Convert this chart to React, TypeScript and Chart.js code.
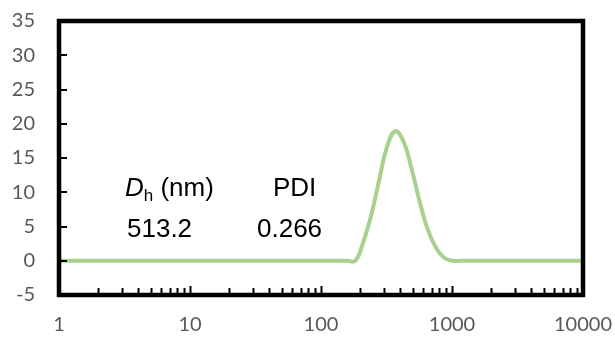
import React, { useEffect, useRef } from "react";
import { Chart, registerables } from "chart.js";

Chart.register(...registerables);

// Hydrodynamic diameter (nm) and intensity (%)
const sizesNm = [1, 158.0, 182.5, 207.5, 239.3, 276.7, 319.9, 369.0, 426.6, 493.3, 568.9, 657.7, 760.3, 877.0, 1014, 1172, 10000];
const intensity = [0, 0, 0, 2.4, 6.3, 11.6, 16.7, 18.9, 17.4, 13.3, 8.5, 4.4, 1.8, 0.4, 0, 0, 0];

const xTickLabels = [1, 10, 100, 1000, 10000];
const yMin = -5;
const yMax = 35;
const yStep = 5;

const dhLabel = "513.2";
const pdiLabel = "0.266";

const LINE_COLOR = "#A9D18E";
const TICK_COLOR = "#595959";

export default function App() {
  const canvasRef = useRef<HTMLCanvasElement | null>(null);

  useEffect(() => {
    const canvas = canvasRef.current;
    if (!canvas) return;

    const framePlugin = {
      id: "frame",
      afterDraw(chart: any) {
        const ctx = chart.ctx as CanvasRenderingContext2D;
        const { left, right, top, bottom } = chart.chartArea;
        const xs = chart.scales.x;
        const ys = chart.scales.y;
        ctx.save();
        // inner tick marks
        ctx.strokeStyle = "#000";
        ctx.lineWidth = 2;
        ctx.beginPath();
        for (let v = yMin + yStep; v < yMax; v += yStep) {
          const py = Math.round(ys.getPixelForValue(v));
          ctx.moveTo(left, py);
          ctx.lineTo(left + 8, py);
        }
        for (let d = 0; d < xTickLabels.length - 1; d++) {
          const base = xTickLabels[d];
          for (let m = 2; m <= 10; m++) {
            const px = Math.round(xs.getPixelForValue(base * m)) + 0.5;
            const len = m === 10 ? 9 : 7;
            ctx.moveTo(px, bottom);
            ctx.lineTo(px, bottom - len);
          }
        }
        ctx.stroke();
        // frame
        ctx.lineWidth = 4.5;
        ctx.strokeRect(left, top, right - left, bottom - top);

        // annotations
        ctx.fillStyle = "#000";
        ctx.textBaseline = "alphabetic";
        ctx.textAlign = "left";
        const row1 = top + 175;
        const row2 = top + 216;
        let x = left + 66;
        ctx.font = "italic 26px 'Liberation Sans', Arial, sans-serif";
        ctx.fillText("D", x, row1);
        x += ctx.measureText("D").width;
        ctx.font = "17px 'Liberation Sans', Arial, sans-serif";
        ctx.fillText("h", x, row1 + 5);
        x += ctx.measureText("h").width;
        ctx.font = "26px 'Liberation Sans', Arial, sans-serif";
        ctx.fillText(" (nm)", x, row1);
        ctx.fillText("PDI", left + 214, row1);
        ctx.fillText(dhLabel, left + 68, row2);
        ctx.fillText(pdiLabel, left + 198, row2);
        ctx.restore();
      },
    };

    const chart = new Chart(canvas, {
      type: "scatter",
      data: {
        datasets: [
          {
            data: sizesNm.map((s, i) => ({ x: s, y: intensity[i] })),
            showLine: true,
            borderColor: LINE_COLOR,
            backgroundColor: LINE_COLOR,
            borderWidth: 4,
            pointRadius: 0,
            tension: 0.45,
            fill: false,
          },
        ],
      },
      options: {
        responsive: false,
        animation: false,
        layout: { padding: { left: 0, right: 32, top: 21, bottom: 0 } },
        plugins: {
          legend: { display: false },
          tooltip: { enabled: false },
          title: { display: false },
        },
        scales: {
          x: {
            type: "logarithmic",
            min: 1,
            max: 10000,
            grid: { display: false, drawTicks: false },
            border: { display: false },
            afterBuildTicks: (scale: any) => {
              scale.ticks = xTickLabels.map((v) => ({ value: v }));
            },
            afterFit: (scale: any) => {
              scale.height = 42;
              scale.paddingLeft = 0;
              scale.paddingRight = 0;
              scale.paddingTop = 0;
              scale.paddingBottom = 0;
            },
            ticks: {
              autoSkip: false,
              maxRotation: 0,
              padding: 18,
              color: TICK_COLOR,
              font: { family: "Lato", size: 20 },
              callback: (v: any) => String(v),
            },
          },
          y: {
            min: yMin,
            max: yMax,
            grid: { display: false, drawTicks: false },
            border: { display: false },
            afterFit: (scale: any) => {
              scale.width = 59;
              scale.paddingLeft = 0;
              scale.paddingRight = 0;
              scale.paddingTop = 0;
              scale.paddingBottom = 0;
            },
            ticks: {
              stepSize: yStep,
              padding: 24,
              color: TICK_COLOR,
              font: { family: "Lato", size: 20 },
            },
          },
        },
      },
      plugins: [framePlugin],
    });

    return () => {
      chart.destroy();
    };
  }, []);

  return (
    <div style={{ position: "fixed", left: 0, top: 0, width: 615, height: 337, background: "#fff" }}>
      <canvas ref={canvasRef} width={615} height={337} />
    </div>
  );
}
